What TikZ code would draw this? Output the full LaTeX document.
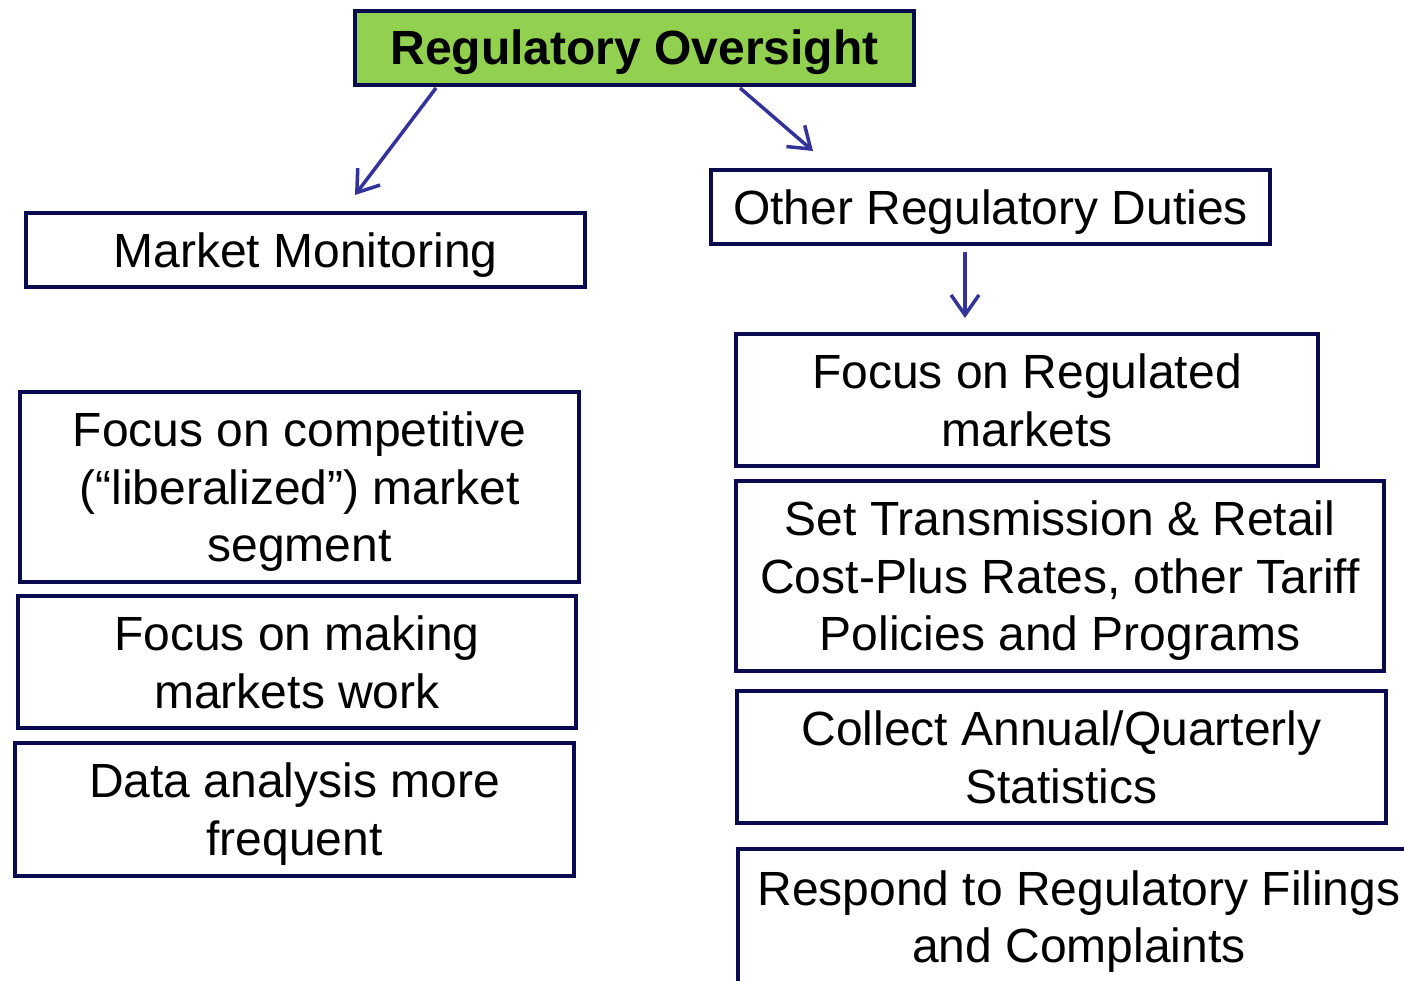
\documentclass[tikz,border=0pt]{standalone}
\usepackage{fontspec}
\setmainfont{Liberation Sans}
\usetikzlibrary{arrows.meta,calc}
\definecolor{navy}{RGB}{10,10,78}
\definecolor{arrowblue}{RGB}{51,51,153}
\definecolor{topgreen}{RGB}{146,208,80}
\newcommand{\ls}{\rule[-9pt]{0pt}{53pt}}
\tikzset{
  box/.style={draw=navy, line width=4pt, fill=white, inner sep=0pt, align=center,
    font=\fontsize{48}{57.5}\selectfont},
  conn/.style={draw=arrowblue, line width=3.5pt,
    -{Straight Barb[length=20pt,width=28pt,line width=3.5pt]}},
}
\begin{document}
\begin{tikzpicture}[x=1pt,y=-1pt]
\useasboundingbox (0,0) rectangle (1404,981);
\fill[white] (0,0) rectangle (1404,981);
\clip (0,0) rectangle (1404,981);

\node[box, fill=topgreen, minimum width=559pt, minimum height=74pt,
  font=\fontsize{48}{57.5}\selectfont\bfseries] (top) at (634.5,48) {\ls Regulatory Oversight};

\node[box, minimum width=559pt, minimum height=74pt] (mm) at (305.5,250) {\ls Market Monitoring};
\node[box, minimum width=559pt, minimum height=74pt] (ord) at (990.5,207) {\ls Other Regulatory Duties};

\node[box, minimum width=559pt, minimum height=190pt] (comp) at (299.5,487)
  {\ls Focus on competitive\\\ls(“liberalized”) market\\\ls segment};
\node[box, minimum width=558pt, minimum height=132pt] (mk) at (297,662)
  {\ls Focus on making\\\ls markets work};
\node[box, minimum width=559pt, minimum height=133pt] (data) at (294.5,809.5)
  {\ls Data analysis more\\\ls frequent};

\node[box, minimum width=582pt, minimum height=132pt] (foc) at (1027,400)
  {\ls Focus on Regulated\\\ls markets};
\node[box, minimum width=648pt, minimum height=190pt] (set) at (1060,576)
  {\ls Set Transmission \& Retail\\\ls Cost-Plus Rates, other Tariff\\\ls Policies and Programs};
\node[box, minimum width=649pt, minimum height=132pt] (col) at (1061.5,757)
  {\ls Collect Annual/Quarterly\\\ls Statistics};
\node[box, minimum width=682pt, minimum height=136pt] (resp) at (1079,917)
  {\ls Respond to Regulatory Filings\\\ls and Complaints};

\coordinate (e1) at ($(mm.north west)+(331,-16)$);
\coordinate (e2) at ($(ord.north west)+(104,-17)$);
\coordinate (e3) at ($(foc.north west)+(231,-14)$);

\draw[conn] ($(top.south west)+(83,1)$) -- (e1);
\draw[conn] ($(top.south east)+(-176,1)$) -- (e2);
\draw[conn] ($(ord.south west)+(256,6)$) -- (e3);
\end{tikzpicture}
\end{document}
